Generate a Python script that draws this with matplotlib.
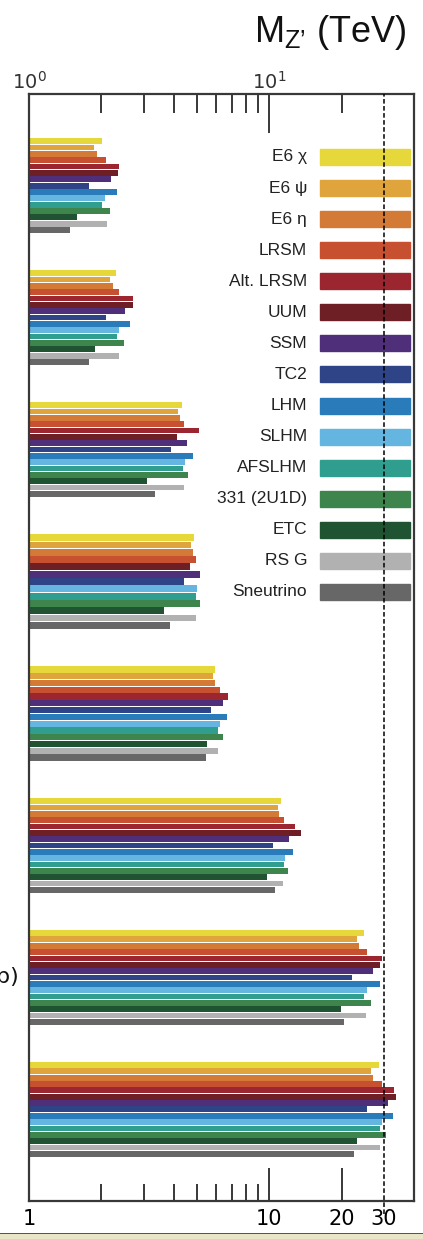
import matplotlib
matplotlib.use("Agg")
import matplotlib.pyplot as plt
import numpy as np
from matplotlib.patches import Rectangle

# models (legend order, top to bottom inside each group)
models = ["E6 χ", "E6 ψ", "E6 η", "LRSM", "Alt. LRSM", "UUM", "SSM", "TC2",
          "LHM", "SLHM", "AFSLHM", "331 (2U1D)", "ETC", "RS G", "Sneutrino"]
colors = ["#E6D83A", "#E0A43C", "#D27A36", "#C6502F", "#9C2630", "#6E1F25",
          "#4F2E7A", "#2F4486", "#2A7BB9", "#64B6E0", "#2F9E8F", "#3E854D",
          "#1F5331", "#B1B1B1", "#676767"]

nan = np.nan
# reach in TeV, one row per scenario (top to bottom)
g1 = [2.01, 1.86, 1.91, 2.09, 2.36, 2.34, 2.20, 1.77, 2.33, 2.08, 2.01, 2.17, 1.58, 2.11, 1.48]
g2 = [2.30, 2.17, 2.23, 2.38, 2.71, 2.72, 2.50, 2.09, 2.64, 2.38, 2.33, 2.48, 1.88, 2.38, 1.77]
g3 = [4.34, 4.16, 4.26, 4.40, 5.08, 4.12, 4.55, 3.88, 4.81, 4.44, 4.37, 4.60, 3.09, 4.40, 3.35]
g4 = [4.84, 4.70, 4.81, 4.95, nan, 4.67, 5.13, 4.42, nan, 5.01, 4.93, 5.17, 3.63, 4.93, 3.87]
g5 = [5.96, 5.82, 5.92, 6.23, 6.75, nan, 6.39, 5.70, 6.68, 6.25, 6.13, 6.41, 5.50, 6.09, 5.46]
g6 = [11.2, 10.9, 11.0, 11.5, 12.8, 13.6, 12.1, 10.4, 12.6, 11.6, 11.5, 12.0, 9.8, 11.4, 10.6]
g7 = [24.7, 23.2, 23.7, 25.4, 29.3, 29.0, 27.0, 22.0, 29.0, 25.4, 24.7, 26.6, 19.9, 25.3, 20.4]
g8 = [28.6, 26.4, 27.0, 29.3, 33.0, 33.6, 31.1, 25.4, 32.8, 29.3, 28.8, 30.7, 23.1, 29.0, 22.6]
groups = [g1, g2, g3, g4, g5, g6, g7, g8]

bottom_ticks = [1, 10, 20, 30]
bottom_labels = ["1", "10", "20", "30"]

W, H = 423, 1239
fig = plt.figure(figsize=(W / 100, H / 100), dpi=100)
ax = fig.add_axes([29 / W, 1 - 1201 / H, 385 / W, 1107 / H])

frame_c = "#383838"
nslot = 15
gpitch = 20.83   # group pitch in slot units

for gi, vals in enumerate(groups):
    vals = np.array(vals, dtype=float)
    idx = [k for k in range(nslot) if not np.isnan(vals[k])]
    step = nslot / len(idx)
    for j, k in enumerate(idx):
        y = gi * gpitch + (j + 0.5) * step
        ax.barh(y, vals[k] - 1, left=1, height=step * 0.93,
                color=colors[k], edgecolor="none", zorder=2)

ax.set_xscale("log")
ax.set_xlim(1, 40)
ax.set_ylim(7 * gpitch + nslot + 6.95, -6.95)
ax.set_yticks([])

# dashed line at 30 TeV
ax.axvline(30, ymin=-0.012, ymax=1.0, color="black", lw=1.1,
           ls=(0, (3, 1.6)), zorder=5, clip_on=False)

for s in ax.spines.values():
    s.set_color(frame_c)
    s.set_linewidth(1.6)

# bottom axis
ax.set_xticks(bottom_ticks)
ax.set_xticklabels(bottom_labels, fontsize=15, family="DejaVu Sans")
ax.set_xticks([2, 3, 4, 5, 6, 7, 8, 9, 20], minor=True)
ax.xaxis.set_minor_formatter(matplotlib.ticker.NullFormatter())
ax.tick_params(axis="x", which="major", direction="in", length=24, width=1.4,
               color=frame_c, pad=6)
ax.tick_params(axis="x", which="minor", direction="in", length=12, width=1.4,
               color=frame_c)
ax.get_xticklines()[0].set_visible(False)
ax.get_xticklines()[6].set_visible(False)

# top axis
plt.rcParams["mathtext.fontset"] = "custom"
plt.rcParams["mathtext.rm"] = "Liberation Sans"
plt.rcParams["mathtext.it"] = "Liberation Sans:italic"
top = ax.secondary_xaxis("top")
top.set_xticks([1, 10])
top.set_xticklabels([r"$\mathregular{10^{0}}$", r"$\mathregular{10^{1}}$"],
                    fontsize=14, color="#333333")
top.set_xticks([2, 3, 4, 5, 6, 7, 8, 9, 20], minor=True)
top.xaxis.set_minor_formatter(matplotlib.ticker.NullFormatter())
top.tick_params(axis="x", which="major", direction="in", length=28, width=1.4,
                color=frame_c, pad=1)
top.tick_params(axis="x", which="minor", direction="in", length=13.5, width=1.4,
                color=frame_c)
top.spines["top"].set_visible(False)
top.get_xticklines()[0].set_visible(False)

# legend drawn inside the axes
for i, (name, c) in enumerate(zip(models, colors)):
    yc = (1201 - (157 + i * 31.07)) / 1107
    ax.add_patch(Rectangle(((320 - 29) / 385, yc - 0.00723), 90 / 385, 0.01446,
                           transform=ax.transAxes, color=c, zorder=3))
    ax.text((307 - 29) / 385, yc, name, transform=ax.transAxes, ha="right",
            va="center", fontsize=12.5, family="Liberation Sans", color="#222222",
            zorder=4)

fig.text(407 / W, 1 - 42 / H, r"M$_{\mathregular{Z’}}$ (TeV)", ha="right",
         va="baseline", fontsize=26, family="Liberation Sans", color="#111111")

fig.text(19 / W, 1 - 977 / H, "b)", ha="right", va="center", fontsize=16,
         family="DejaVu Sans", color="#111111")

# slide footer strip
fig.add_artist(Rectangle((0, 0), 1, 6 / H, transform=fig.transFigure,
                         color="#E8E6C6", lw=0))
fig.add_artist(Rectangle((0, 5 / H), 1, 1.5 / H, transform=fig.transFigure,
                         color="#555555", lw=0))

fig.savefig("out.png", dpi=100)
